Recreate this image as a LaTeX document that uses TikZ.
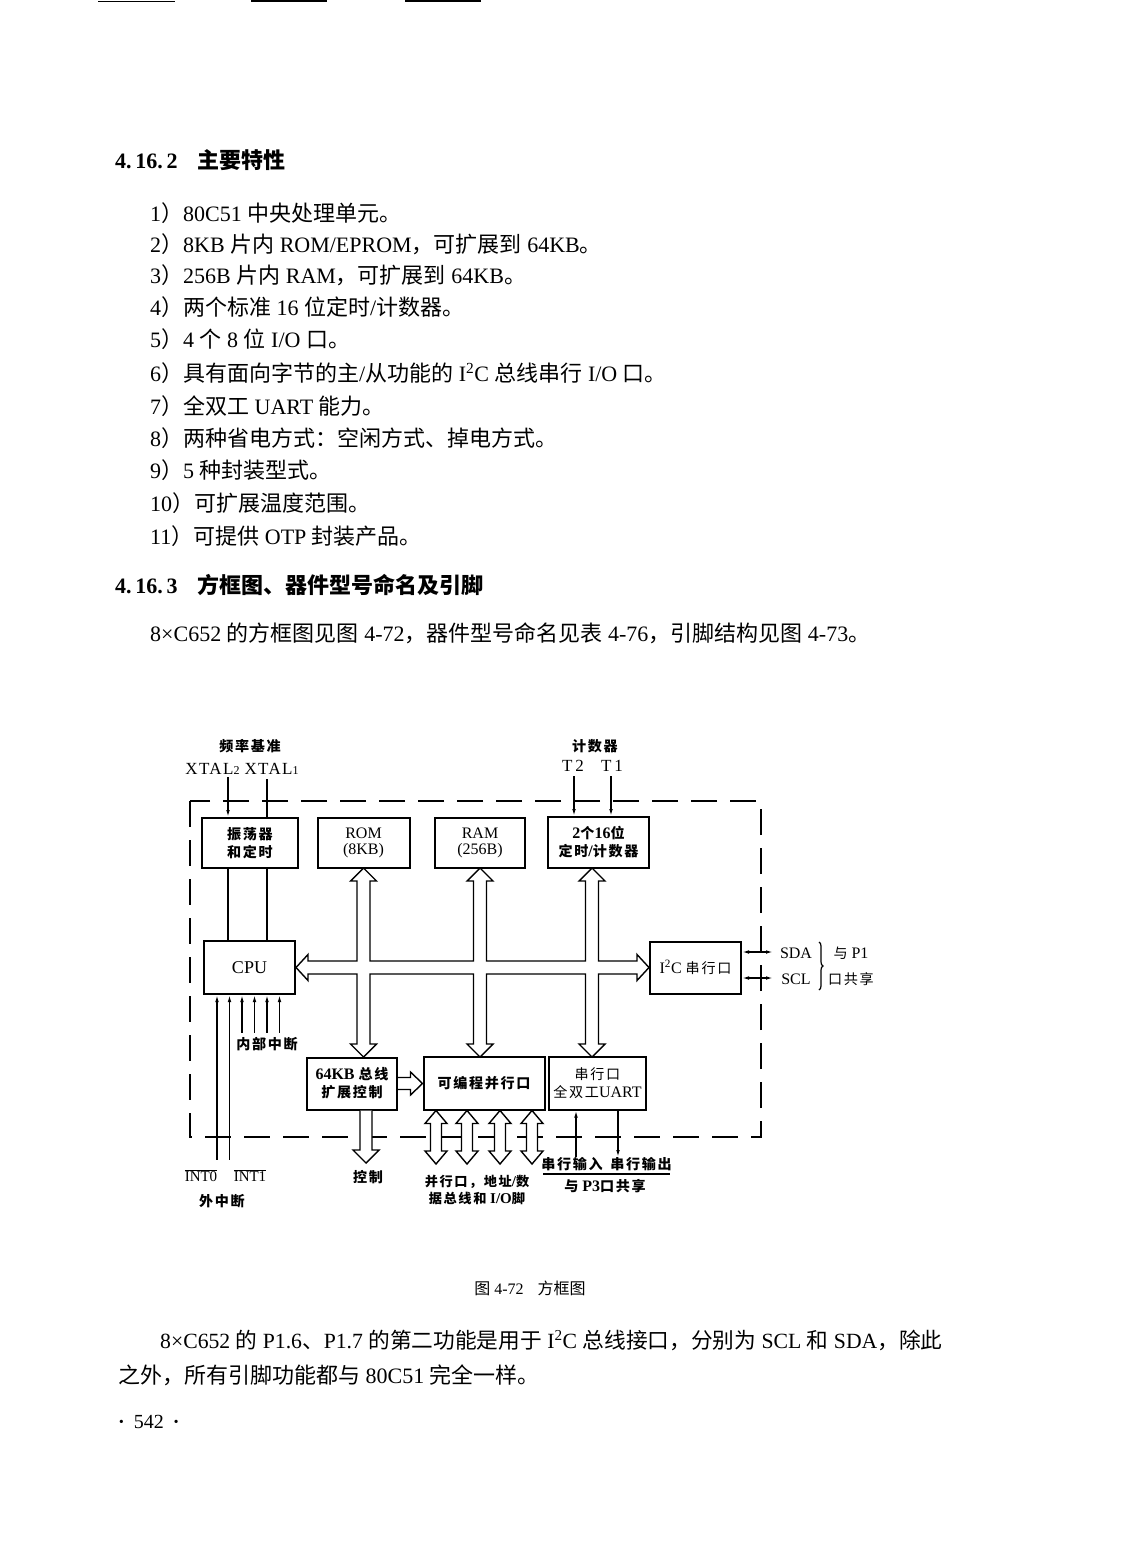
\documentclass[tikz,border=0pt]{standalone}
\usepackage{fontspec}
\setmainfont{Liberation Serif}
\newfontfamily\zhf{Noto Sans CJK SC}
\newfontfamily\zhfs[LetterSpace=12,Scale=0.88]{Noto Sans CJK SC}
\def\zhsel{\zhf}
\XeTeXinterchartokenstate=1
\newXeTeXintercharclass\CJKcls
\count255="3000
\loop\XeTeXcharclass\count255=\CJKcls \ifnum\count255<"9FFF \advance\count255 by 1 \repeat
\count255="FF00
\loop\XeTeXcharclass\count255=\CJKcls \ifnum\count255<"FFEF \advance\count255 by 1 \repeat
\XeTeXinterchartoks 0 \CJKcls={\begingroup\zhsel}
\XeTeXinterchartoks 4095 \CJKcls={\begingroup\zhsel}
\XeTeXinterchartoks \CJKcls 0={\endgroup}
\XeTeXinterchartoks \CJKcls 4095={\endgroup}
\usetikzlibrary{arrows.meta,calc,decorations.pathreplacing}
\newcommand\bodyfont{\fontsize{22}{26}\selectfont}
\newcommand\dfont{\fontsize{16}{16}\selectfont\let\zhsel\zhfs}
\begin{document}
\begin{tikzpicture}[x=1pt,y=-1pt,
  body/.style={anchor=base west,inner sep=0pt,font=\bodyfont},
  box/.style={draw,line width=2pt,inner sep=0pt,align=center,font=\dfont},
  bbox/.style={box,font=\dfont\bfseries},
  lbl/.style={inner sep=0pt,align=center,font=\dfont},
  blbl/.style={inner sep=0pt,align=center,font=\dfont\bfseries},
  thin/.style={line width=1.3pt},
  pin/.style={line width=1.3pt,-{Latex[length=7pt,width=3.6pt]}},
  nip/.style={line width=1.3pt,{Latex[length=7pt,width=3.6pt]}-},
  pinboth/.style={line width=1.3pt,{Latex[length=7pt,width=3.6pt]}-{Latex[length=7pt,width=3.6pt]}},
  bus/.style={line width=1.4pt,fill=white,line join=miter},
  frame/.style={line width=1.5pt,dash pattern=on 26pt off 13pt}]
\fill[white] (0,0) rectangle (1122,1568);
\useasboundingbox (0,0) rectangle (1122,1568);
% top rules
\draw[line width=1.6pt] (98,1.5) -- (175,1.5);
\draw[line width=1.6pt] (251,1) -- (327,1);
\draw[line width=1.6pt] (405,0.8) -- (481,0.8);
% page text
\node[body] (h1) at (115,168) {\bfseries 4.\,16.\,2\hspace{20pt}主要特性};
\node[body] (i1) at (150,221) {1）80C51 中央处理单元。};
\node[body] (i2) at (150,252) {2）8KB 片内 ROM/EPROM，可扩展到 64KB。};
\node[body] (i3) at (150,283) {3）256B 片内 RAM，可扩展到 64KB。};
\node[body] (i4) at (150,315) {4）两个标准 16 位定时/计数器。};
\node[body] (i5) at (150,347) {5）4 个 8 位 I/O 口。};
\node[body] (i6) at (150,381) {6）具有面向字节的主/从功能的 I\textsuperscript{2}C 总线串行 I/O 口。};
\node[body] (i7) at (150,414) {7）全双工 UART 能力。};
\node[body] (i8) at (150,446) {8）两种省电方式：空闲方式、掉电方式。};
\node[body] (i9) at (150,478) {9）5 种封装型式。};
\node[body] (i10) at (150,511) {10）可扩展温度范围。};
\node[body] (i11) at (150,544) {11）可提供 OTP 封装产品。};
\node[body] (h2) at (115,593) {\bfseries 4.\,16.\,3\hspace{20pt}方框图、器件型号命名及引脚};
\node[body] (p1) at (150,641) {8×C652 的方框图见图 4-72，器件型号命名见表 4-76，引脚结构见图 4-73。};
\node[body,font=\fontsize{21.7}{26}\selectfont] (p2) at (160,1348) {8×C652 的 P1.6、P1.7 的第二功能是用于 I\textsuperscript{2}C 总线接口，分别为 SCL 和 SDA，除此};
\node[body] (p3) at (118,1383) {之外，所有引脚功能都与 80C51 完全一样。};
\node[body,font=\fontsize{20}{22}\selectfont] (pg) at (118,1428) {{\bfseries ·}\hspace{9pt}542\hspace{9pt}{\bfseries ·}};
\node[lbl,font=\fontsize{16}{18}\selectfont] (cap) at (530,1288) {图 4-72\hspace{14pt}方框图};
% frame
\draw[frame] (190,801) rectangle (761,1137);
% boxes
\node[bbox,minimum width=96pt,minimum height=50pt] (osc) at (250,843) {振荡器\\[2pt]和定时};
\node[box,minimum width=92pt,minimum height=50pt] (rom) at (363.5,843) {ROM\\(8KB)};
\node[box,minimum width=90pt,minimum height=50pt] (ram) at (480,843) {RAM\\(256B)};
\node[bbox,minimum width=101pt,minimum height=51pt] (tmr) at (598.5,842.5) {2个16位\\[2pt]定时/计数器};
\node[box,minimum width=91pt,minimum height=53pt,font=\fontsize{18}{20}\selectfont] (cpu) at (249.5,967.5) {CPU};
\node[box,minimum width=91pt,minimum height=52pt] (i2c) at (695.5,967.5) {I\textsuperscript{2}C 串行口};
\node[bbox,minimum width=90pt,minimum height=52pt] (ext) at (352,1083.5) {64KB 总线\\[2pt]扩展控制};
\node[bbox,minimum width=121pt,minimum height=53pt] (pio) at (484,1083) {可编程并行口};
\node[box,minimum width=97pt,minimum height=53pt] (uart) at (597.5,1083) {串行口\\[2pt]全双工UART};
% labels
\node[blbl] (fq) at (250,746) {频率基准};
\node[lbl,font=\fontsize{17}{18}\selectfont\addfontfeature{LetterSpace=8}] (xt) at (242,769) {XTAL{\fontsize{12}{12}\selectfont 2}\hspace{5pt}XTAL{\fontsize{12}{12}\selectfont 1}};
\node[blbl] (cnt) at (595,746) {计数器};
\node[lbl,font=\fontsize{17}{18}\selectfont] (lt2) at (573,766) {T\,2};
\node[lbl,font=\fontsize{17}{18}\selectfont] (lt1) at (612,766) {T\,1};
\node[blbl] (nbzd) at (267,1044) {内部中断};
\node[lbl,font=\fontsize{15}{16}\selectfont] (li0) at (201,1176) {$\overline{\mbox{INT0}}$};
\node[lbl,font=\fontsize{15}{16}\selectfont] (li1) at (250,1176) {$\overline{\mbox{INT1}}$};
\node[blbl] (wzd) at (222,1201) {外中断};
\node[blbl] (kz) at (368,1177) {控制};
\node[blbl,font=\fontsize{15}{17}\selectfont\bfseries\let\zhsel\zhfs] (bx) at (477,1190) {并行口，地址/数\\据总线和 I/O脚};
\node[blbl] (sin) at (572,1164) {串行输入};
\node[blbl] (sout) at (641,1164) {串行输出};
\node[blbl] (p3s) at (605,1186) {与 P3口共享};
\node[lbl,font=\fontsize{16}{17}\selectfont] (sda) at (796,953) {SDA};
\node[lbl,font=\fontsize{16}{17}\selectfont] (scl) at (796,979) {SCL};
\node[lbl] (p1a) at (851,953) {与 P1};
\node[lbl] (p1b) at (851,979) {口共享};
% coordinates
\coordinate (xt2) at (228,777);
\coordinate (xt1) at (267,779);
\coordinate (ct2) at (574,776);
\coordinate (ct1) at (611,776);
\coordinate (q1) at (217,1160);
\coordinate (q2) at (229.5,1160);
\coordinate (q3) at (242,1033);
\coordinate (q4) at (254.5,1033);
\coordinate (q5) at (267,1033);
\coordinate (q6) at (279.5,1033);
\coordinate (sdaE) at (773,952);
\coordinate (sclE) at (773,978);
\coordinate (rxE) at (576,1157);
\coordinate (txE) at (618,1157);
\coordinate (ctl) at (366,1163);
% thin connectors
\draw[nip] (osc.north -| xt2) -- (xt2);
\draw[thin] (osc.north -| xt1) -- (xt1);
\draw[thin] (osc.south -| xt2) -- (cpu.north -| xt2);
\draw[thin] (osc.south -| xt1) -- (cpu.north -| xt1);
\draw[pin] (ct2) -- (tmr.north -| ct2);
\draw[pin] (ct1) -- (tmr.north -| ct1);
\foreach \q in {q1,q2,q3,q4,q5,q6}{\draw[nip] (cpu.south -| \q) -- (\q);}
\draw[pinboth] (i2c.east |- sdaE) -- (sdaE);
\draw[pinboth] (i2c.east |- sclE) -- (sclE);
\draw[nip] (uart.south -| rxE) -- (rxE);
\draw[pin] (uart.south -| txE) -- (txE);
\draw[thin] (543,1174) -- (670,1174);
\draw[decorate,decoration={brace,amplitude=4pt},line width=1.2pt] (819,942) -- (819,990);
% main bus
\draw[bus] (cpu.east) -- (308,954.5) -- (308,961) -- (357,961) -- (357,881) -- (350.5,881) -- (363.5,868) -- (376.5,881) -- (370,881) -- (370,961)
  -- (473.5,961) -- (473.5,881) -- (467,881) -- (480,868) -- (493,881) -- (486.5,881) -- (486.5,961)
  -- (585.5,961) -- (585.5,881) -- (579,881) -- (592,868) -- (605,881) -- (598.5,881) -- (598.5,961)
  -- (637,961) -- (637,954.5) -- (i2c.west) -- (637,980.5) -- (637,974)
  -- (598.5,974) -- (598.5,1044) -- (605,1044) -- (592,1057) -- (579,1044) -- (585.5,1044) -- (585.5,974)
  -- (486.5,974) -- (486.5,1044) -- (493,1044) -- (480,1057) -- (467,1044) -- (473.5,1044) -- (473.5,974)
  -- (370,974) -- (370,1044) -- (376.5,1044) -- (363.5,1057) -- (350.5,1044) -- (357,1044) -- (357,974)
  -- (308,974) -- (308,980.5) -- cycle;
% ext -> pio
\draw[bus] ($(ext.east)+(0,-6)$) -- ++(12.5,0) -- ++(0,-5.5) -- (pio.west |- ext.east) -- ($(ext.east)+(12.5,11.5)$) -- ++(0,-5.5) -- ($(ext.east)+(0,6)$);
% ext -> control
\draw[bus] ($(ext.south -| ctl)+(-6,0)$) -- ($(ctl)+(-6,-13)$) -- ($(ctl)+(-13,-13)$) -- (ctl) -- ($(ctl)+(13,-13)$) -- ($(ctl)+(6,-13)$) -- ($(ext.south -| ctl)+(6,0)$);
% pio double arrows
\foreach \xx in {436,467,500,532}{
  \coordinate (dtop) at (pio.south -| \xx,0);
  \draw[bus] ($(dtop)+(-5.5,13)$) -- ($(dtop)+(-11,13)$) -- (dtop) -- ($(dtop)+(11,13)$) -- ($(dtop)+(5.5,13)$)
    -- ($(dtop)+(5.5,40.5)$) -- ($(dtop)+(11,40.5)$) -- ($(dtop)+(0,53.5)$) -- ($(dtop)+(-11,40.5)$) -- ($(dtop)+(-5.5,40.5)$) -- cycle;
}
\end{tikzpicture}
\end{document}
